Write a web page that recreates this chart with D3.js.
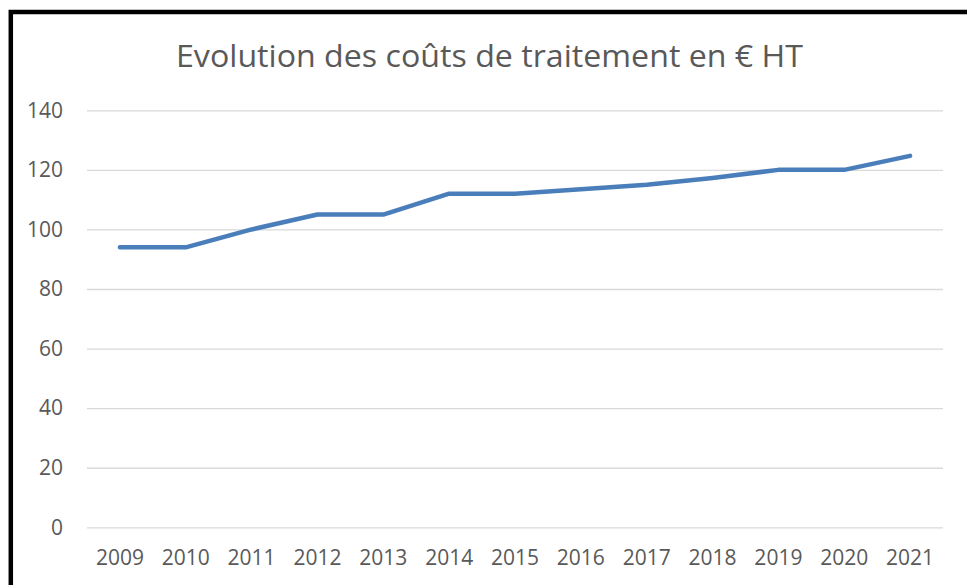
<!DOCTYPE html>
<html>
<head>
<meta charset="utf-8">
<script src="https://cdn.jsdelivr.net/npm/d3@7/dist/d3.min.js"></script>
<style>
  html, body { margin: 0; padding: 0; background: #fff; }
  svg { display: block; }
</style>
</head>
<body>
<svg id="chart" width="967" height="585"></svg>
<script>
const title = "Evolution des coûts de traitement en € HT";
const years = ["2009","2010","2011","2012","2013","2014","2015","2016","2017","2018","2019","2020","2021"];
const costs = [94, 94, 100, 105, 105, 112, 112, 113.5, 115, 117.3, 120, 120, 124.7];
const yTicks = [0, 20, 40, 60, 80, 100, 120, 140];

const svg = d3.select("#chart");
const font = "'Open Sans', 'DejaVu Sans', sans-serif";
const grey = "#595959";

// frame border
svg.append("path")
  .attr("d", "M10.8,600 L10.8,12 L980,12")
  .attr("fill", "none")
  .attr("stroke", "#000")
  .attr("stroke-width", 4.5);

const plot = { left: 87, right: 943, top: 110.3, bottom: 527.3 };

const x = d3.scaleBand().domain(years).range([plot.left, plot.right]);
const y = d3.scaleLinear().domain([0, 140]).range([plot.bottom, plot.top]);

// gridlines + y labels
const yAxis = d3.axisLeft(y).tickValues(yTicks)
  .tickSize(-(plot.right - plot.left)).tickPadding(24);
const gy = svg.append("g").attr("transform", `translate(${plot.left},0)`).call(yAxis);
gy.select(".domain").remove();
gy.selectAll(".tick line").attr("stroke", "#d9d9d9").attr("stroke-width", 1.3);
gy.selectAll(".tick text")
  .attr("fill", grey)
  .style("font-family", font)
  .style("font-size", "21px");

// x axis labels
const xAxis = d3.axisBottom(x).tickSize(0).tickPadding(23);
const gx = svg.append("g").attr("transform", `translate(0,${plot.bottom})`).call(xAxis);
gx.select(".domain").remove();
gx.selectAll(".tick text")
  .attr("fill", grey)
  .style("font-family", font)
  .style("font-size", "21px");

// line
const line = d3.line()
  .x((d, i) => x(years[i]) + x.bandwidth() / 2)
  .y(d => y(d));
svg.append("path")
  .datum(costs)
  .attr("d", line)
  .attr("fill", "none")
  .attr("stroke", "#4a7ebb")
  .attr("stroke-width", 4.5)
  .attr("stroke-linejoin", "round")
  .attr("stroke-linecap", "round");

// title
svg.append("text")
  .attr("x", 176)
  .attr("y", 67)
  .attr("textLength", 627)
  .attr("lengthAdjust", "spacingAndGlyphs")
  .attr("fill", grey)
  .style("font-family", font)
  .style("font-size", "31px")
  .text(title);
</script>
</body>
</html>
